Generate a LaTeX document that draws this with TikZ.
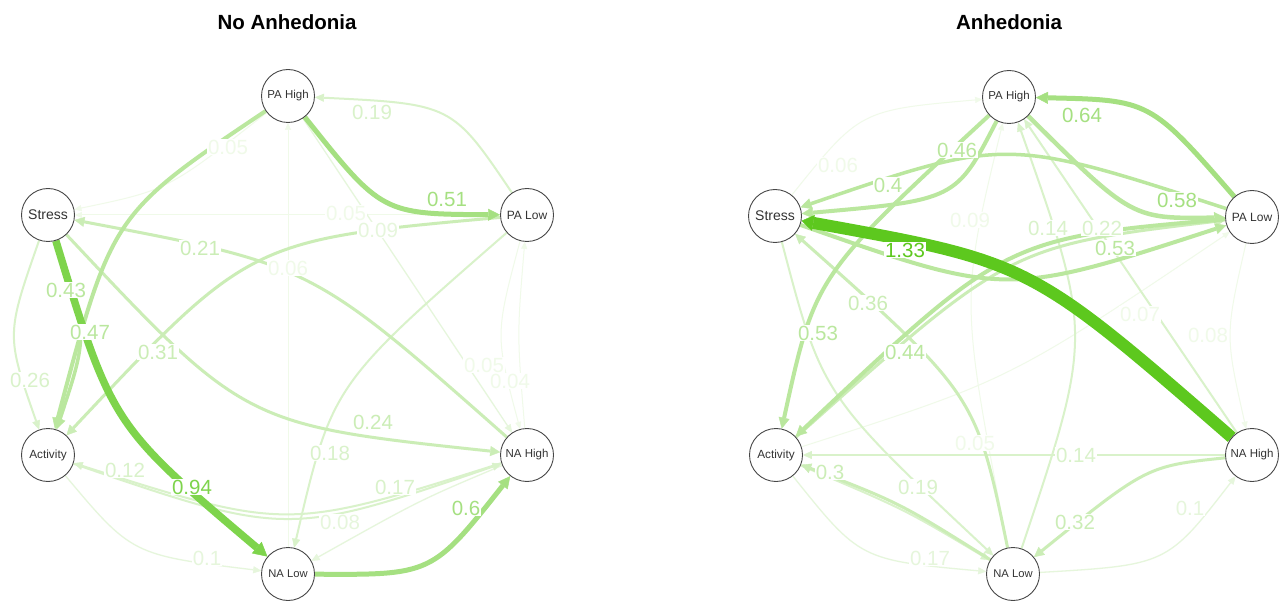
\documentclass[tikz,border=0pt]{standalone}
\usepackage{fontspec}
\setmainfont{Liberation Sans}
\usetikzlibrary{arrows.meta,backgrounds}
\definecolor{gA}{HTML}{5DC81E}
\definecolor{gB}{HTML}{7ED44C}
\definecolor{gC}{HTML}{A5E081}
\definecolor{gD}{HTML}{BAE79E}
\definecolor{gE}{HTML}{CBEDB6}
\definecolor{gF}{HTML}{D9F2CA}
\definecolor{gG}{HTML}{E6F6DC}
\definecolor{gH}{HTML}{F0FAE9}
\begin{document}
\begin{tikzpicture}[x=1pt,y=-1pt,
  vtx/.style={circle,draw=black!72,line width=0.9pt,fill=white,minimum size=53pt,inner sep=0pt,text=black!80},
  lab/.style={fill=white,inner sep=0.6pt,font=\fontsize{20.5}{20.5}\selectfont},
  ttl/.style={font=\fontsize{20.5}{20.5}\selectfont\bfseries},
  eA/.style={line width=12pt,draw=gA,-{Triangle[length=12pt,width=16pt,line width=0.4pt]}},
  eB/.style={line width=7.5pt,draw=gB,-{Triangle[length=14pt,width=15pt,line width=0.4pt]}},
  eC/.style={line width=5pt,draw=gC,-{Triangle[length=12pt,width=12pt,line width=0.4pt]}},
  eD/.style={line width=4pt,draw=gD,-{Triangle[length=11pt,width=11pt,line width=0.4pt]}},
  eE/.style={line width=3pt,draw=gE,-{Triangle[length=10pt,width=10pt,line width=0.4pt]}},
  eF/.style={line width=2pt,draw=gF,-{Triangle[length=9pt,width=8pt,line width=0.4pt]}},
  eG/.style={line width=1.3pt,draw=gG,-{Triangle[length=8pt,width=7pt,line width=0.4pt]}},
  eH/.style={line width=1pt,draw=gH,-{Triangle[length=7pt,width=6pt,line width=0.4pt]}}]
\useasboundingbox (0,0) rectangle (1279,601);
% titles
\node[ttl] (t1) at (287,22) {No Anhedonia};
\node[ttl] (t2) at (1009,22) {Anhedonia};
% left nodes
\node[vtx,font=\fontsize{11.5}{12}\selectfont] (PH) at (288,96) {PA High};
\node[vtx,font=\fontsize{12}{12}\selectfont] (PL) at (527,215) {PA Low};
\node[vtx,font=\fontsize{11.5}{12}\selectfont] (NH) at (527,455) {NA High};
\node[vtx,font=\fontsize{11.2}{12}\selectfont] (NL) at (288,574) {NA Low};
\node[vtx,font=\fontsize{11.8}{12}\selectfont] (AC) at (48,455) {Activity};
\node[vtx,font=\fontsize{14}{14}\selectfont] (ST) at (48,215) {Stress};
% right nodes
\node[vtx,font=\fontsize{11.5}{12}\selectfont] (PH2) at (1009,97) {PA High};
\node[vtx,font=\fontsize{12}{12}\selectfont] (PL2) at (1252,217) {PA Low};
\node[vtx,font=\fontsize{11.5}{12}\selectfont] (NH2) at (1252,455) {NA High};
\node[vtx,font=\fontsize{11.2}{12}\selectfont] (NL2) at (1013,574) {NA Low};
\node[vtx,font=\fontsize{11.8}{12}\selectfont] (AC2) at (776,455) {Activity};
\node[vtx,font=\fontsize{14}{14}\selectfont] (ST2) at (775,216) {Stress};
\begin{scope}[on background layer]
\fill[white] (0,0) rectangle (1279,601);
% ---- left graph edges
\draw[eH] (PL) -- (ST);
\draw[eH] (NL) -- (PH);
\draw[eH] (PH) .. controls (168,190) .. (ST);
\draw[eH] (PL) .. controls (495,335) .. (NH);
\draw[eH] (NH) .. controls (517,335) .. (PL);
\draw[eG] (PH) -- (NH);
\draw[eG] (NH) .. controls (420,500) .. (NL);
\draw[eG] (AC) .. controls (132,555) .. (NL);
\draw[eF] (PL) .. controls (452,104) .. (PH);
\draw[eF] (PL) .. controls (332,385) .. (NL);
\draw[eF] (NH) .. controls (287,531) .. (AC);
\draw[eF] (AC) .. controls (287,537) .. (NH);
\draw[eF] (ST) .. controls (6,335) .. (AC);
\draw[eE] (NH) .. controls (312,265) .. (ST);
\draw[eE] (ST) .. controls (245,425) .. (NH);
\draw[eE] (PL) .. controls (250,240) .. (AC);
\draw[eD,line width=3.5pt] (ST) .. controls (88,335) .. (AC);
\draw[eD] (PH) .. controls (112,214) .. (AC);
\draw[eC] (PH) .. controls (382,214) .. (PL);
\draw[eC] (NL) .. controls (432,575) .. (NH);
\draw[eB] (ST) .. controls (112,425) .. (NL);
% ---- right graph edges
\draw[eH] (ST2) .. controls (860,110) .. (PH2);
\draw[eH] (AC2) .. controls (1010,380) .. (PL2);
\draw[eH] (PL2) .. controls (1225,335) .. (NH2);
\draw[eH] (NL2) .. controls (960,300) .. (PH2);
\draw[eG] (AC2) .. controls (860,560) .. (NL2);
\draw[eG] (NL2) .. controls (1167,565) .. (NH2);
\draw[eF] (NH2) -- (AC2);
\draw[eF] (NL2) .. controls (1093,335) .. (PH2);
\draw[eF] (NH2) -- (PH2);
\draw[eF] (ST2) .. controls (822,395) .. (NL2);
\draw[eF] (AC2) .. controls (904,509) .. (NL2);
\draw[eE] (NL2) .. controls (900,503) .. (AC2);
\draw[eE] (NH2) .. controls (1147,466) .. (NL2);
\draw[eE] (NL2) .. controls (976,395) .. (ST2);
\draw[eE] (AC2) .. controls (1010,246) .. (PL2);
\draw[eD] (PL2) .. controls (1006,238) .. (AC2);
\draw[eD] (ST2) .. controls (1006,297) .. (PL2);
\draw[eD] (PH2) .. controls (815,276) .. (AC2);
\draw[eD] (PH2) .. controls (956,200) .. (ST2);
\draw[eD,line width=3.5pt] (PL2) .. controls (1006,137) .. (ST2);
\draw[eD,line width=4.5pt] (PH2) .. controls (1132,219) .. (PL2);
\draw[eC] (PL2) .. controls (1150,100) .. (PH2);
\draw[eA] (NH2) .. controls (1030,262) .. (ST2);
\end{scope}
% ---- left labels
\node[lab,text=gH] (l01) at (346,213) {0.05};
\node[lab,text=gH] (l02) at (228,147) {0.05};
\node[lab,text=gH] (l03) at (288,268) {0.06};
\node[lab,text=gH] (l04) at (484,365) {0.05};
\node[lab,text=gH] (l05) at (510,381) {0.04};
\node[lab,text=gG] (l06) at (378,230) {0.09};
\node[lab,text=gG] (l07) at (340,522) {0.08};
\node[lab,text=gG] (l08) at (207,558) {0.1};
\node[lab,text=gF] (l09) at (372,112) {0.19};
\node[lab,text=gF] (l10) at (330,453) {0.18};
\node[lab,text=gF] (l11) at (125,470) {0.12};
\node[lab,text=gF] (l12) at (395,487) {0.17};
\node[lab,text=gF] (l13) at (30,380) {0.26};
\node[lab,text=gE] (l14) at (200,248) {0.21};
\node[lab,text=gE] (l15) at (373,422) {0.24};
\node[lab,text=gE] (l16) at (158,352) {0.31};
\node[lab,text=gD] (l17) at (66,290) {0.43};
\node[lab,text=gD] (l18) at (90,332) {0.47};
\node[lab,text=gC] (l19) at (447,199) {0.51};
\node[lab,text=gC] (l20) at (466,508) {0.6};
\node[lab,text=gB] (l21) at (192,487) {0.94};
% ---- right labels
\node[lab,text=gH] (r01) at (838,165) {0.06};
\node[lab,text=gH] (r02) at (970,220) {0.09};
\node[lab,text=gH] (r03) at (1140,314) {0.07};
\node[lab,text=gH] (r04) at (1208,335) {0.08};
\node[lab,text=gH] (r05) at (975,443) {0.05};
\node[lab,text=gG] (r06) at (930,558) {0.17};
\node[lab,text=gG] (r07) at (1190,508) {0.1};
\node[lab,text=gF] (r08) at (1076,455) {0.14};
\node[lab,text=gF] (r09) at (1048,228) {0.14};
\node[lab,text=gF] (r10) at (1102,228) {0.22};
\node[lab,text=gF] (r11) at (918,487) {0.19};
\node[lab,text=gE] (r12) at (830,472) {0.3};
\node[lab,text=gE] (r13) at (1075,522) {0.32};
\node[lab,text=gE] (r14) at (868,303) {0.36};
\node[lab,text=gD] (r15) at (888,185) {0.4};
\node[lab,text=gD] (r16) at (957,150) {0.46};
\node[lab,text=gD] (r17) at (818,333) {0.53};
\node[lab,text=gD] (r18) at (1115,248) {0.53};
\node[lab,text=gD] (r19) at (905,352) {0.44};
\node[lab,text=gC] (r20) at (1082,115) {0.64};
\node[lab,text=gC] (r21) at (1177,200) {0.58};
\node[lab,text=gA] (r22) at (905,250) {1.33};
\end{tikzpicture}
\end{document}
